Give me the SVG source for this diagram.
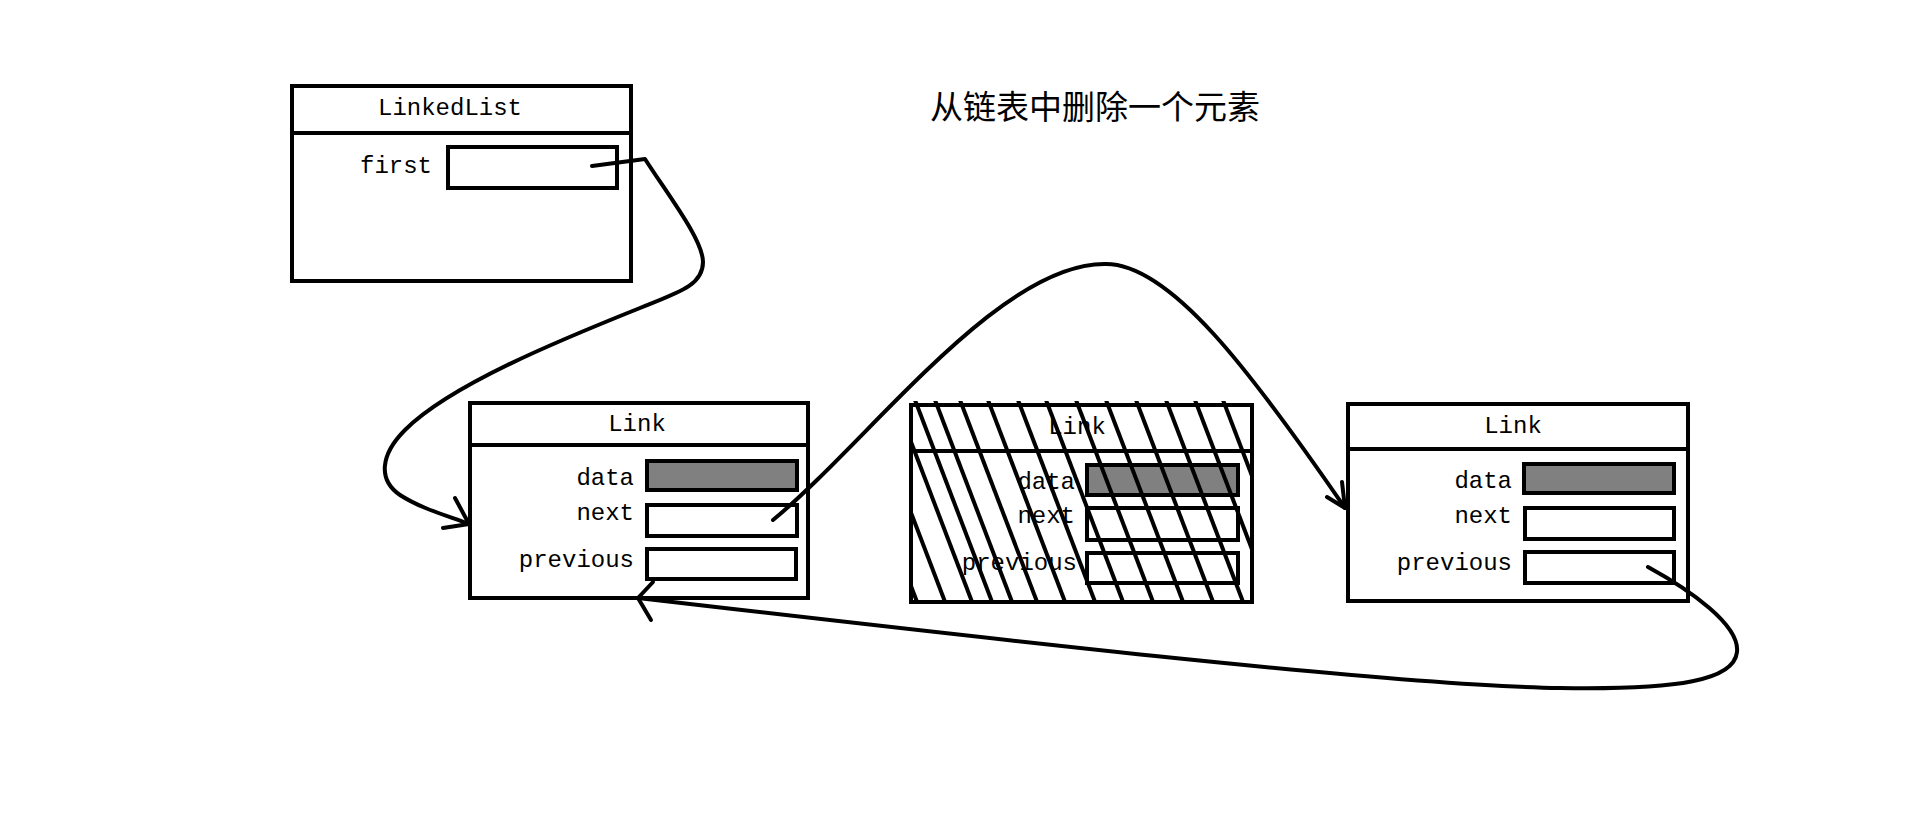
<svg xmlns="http://www.w3.org/2000/svg" width="1914" height="813" viewBox="0 0 1914 813">
  <style>
    .box{fill:#fff;stroke:#000;stroke-width:4}
    .div{stroke:#000;stroke-width:4}
    .slot{fill:#fff;stroke:#000;stroke-width:4}
    .gray{fill:#808080;stroke:#000;stroke-width:4}
    .t{font-family:"Liberation Mono","DejaVu Sans Mono",monospace;font-size:24px;fill:#000}
    .c{text-anchor:middle}
    .r{text-anchor:end}
    .ttl{font-family:"Noto Sans CJK SC","Noto Sans",sans-serif;font-size:33px;fill:#000;text-anchor:middle}
    .con{fill:none;stroke:#000;stroke-width:4;stroke-linecap:round;stroke-linejoin:round}
    .hatch{stroke:#000;stroke-width:4}
  </style>
  <defs>
    <clipPath id="clipMid"><rect x="909" y="401" width="345" height="203"/></clipPath>
  </defs>
  <rect x="0" y="0" width="1914" height="813" fill="#fff"/>

  <g id="title">
    <text class="ttl" x="1095" y="119">从链表中删除一个元素</text>
  </g>

  <g id="linkedlist">
    <rect class="box" x="292" y="86" width="339" height="195"/>
    <line class="div" x1="292" y1="133" x2="631" y2="133"/>
    <text class="t c" x="450" y="115">LinkedList</text>
    <text class="t r" x="432" y="173">first</text>
    <rect class="slot" x="448" y="147" width="169" height="41"/>
  </g>

  <g id="link1">
    <rect class="box" x="470" y="403" width="338" height="195"/>
    <line class="div" x1="470" y1="445" x2="808" y2="445"/>
    <text class="t c" x="637" y="431">Link</text>
    <text class="t r" x="634" y="485">data</text>
    <text class="t r" x="634" y="520">next</text>
    <text class="t r" x="634" y="567">previous</text>
    <rect class="gray" x="647" y="461" width="150" height="29"/>
    <rect class="slot" x="647" y="505" width="150" height="31"/>
    <rect class="slot" x="647" y="549" width="149" height="30"/>
  </g>

  <g id="link2-deleted">
    <rect class="box" x="911" y="405" width="341" height="197"/>
    <line class="div" x1="911" y1="451" x2="1252" y2="451"/>
    <text class="t c" x="1077" y="434">Link</text>
    <text class="t r" x="1075" y="489">data</text>
    <text class="t r" x="1075" y="523">next</text>
    <text class="t r" x="1077" y="570">previous</text>
    <rect class="gray" x="1087" y="465" width="151" height="30"/>
    <rect class="slot" x="1087" y="508" width="151" height="32" fill="none" style="fill:none"/>
    <rect class="slot" x="1087" y="553" width="151" height="30" style="fill:none"/>
    <g clip-path="url(#clipMid)">
      <line class="hatch" x1="840" y1="400" x2="919" y2="607"/>
      <line class="hatch" x1="868" y1="400" x2="947" y2="607"/>
      <line class="hatch" x1="895" y1="400" x2="974" y2="607"/>
      <line class="hatch" x1="915" y1="400" x2="994" y2="607"/>
      <line class="hatch" x1="935" y1="400" x2="1014" y2="607"/>
      <line class="hatch" x1="960" y1="400" x2="1039" y2="607"/>
      <line class="hatch" x1="988" y1="400" x2="1067" y2="607"/>
      <line class="hatch" x1="1018" y1="400" x2="1097" y2="607"/>
      <line class="hatch" x1="1046" y1="400" x2="1125" y2="607"/>
      <line class="hatch" x1="1076" y1="400" x2="1155" y2="607"/>
      <line class="hatch" x1="1106" y1="400" x2="1185" y2="607"/>
      <line class="hatch" x1="1136" y1="400" x2="1215" y2="607"/>
      <line class="hatch" x1="1166" y1="400" x2="1245" y2="607"/>
      <line class="hatch" x1="1195" y1="400" x2="1274" y2="607"/>
      <line class="hatch" x1="1223" y1="400" x2="1302" y2="607"/>
    </g>
  </g>

  <g id="link3">
    <rect class="box" x="1348" y="404" width="340" height="197"/>
    <line class="div" x1="1348" y1="449" x2="1688" y2="449"/>
    <text class="t c" x="1513" y="433">Link</text>
    <text class="t r" x="1512" y="488">data</text>
    <text class="t r" x="1512" y="523">next</text>
    <text class="t r" x="1512" y="570">previous</text>
    <rect class="gray" x="1524" y="464" width="150" height="29"/>
    <rect class="slot" x="1525" y="508" width="149" height="31"/>
    <rect class="slot" x="1525" y="552" width="149" height="31"/>
  </g>

  <g id="connectors">
    <path class="con" d="M592,166 L645,159 C668,195 703,240 703,262 C703,285 680,292 640,308 C560,340 450,385 405,430 C380,455 378,480 400,495 C420,508 445,515 469,524"/>
    <path class="con" d="M455,498 L469,524 L443,528"/>
    <path class="con" d="M773,520 C870,440 1000,262 1106,264 C1170,264 1250,370 1345,508"/>
    <path class="con" d="M1342,482 L1345,508 L1327,497"/>
    <path class="con" d="M1648,567 C1690,590 1740,625 1737,652 C1734,680 1680,690 1560,688 C1400,686 1000,640 638,598"/>
    <path class="con" d="M653,582 L638,598 L651,620"/>
  </g>
</svg>
